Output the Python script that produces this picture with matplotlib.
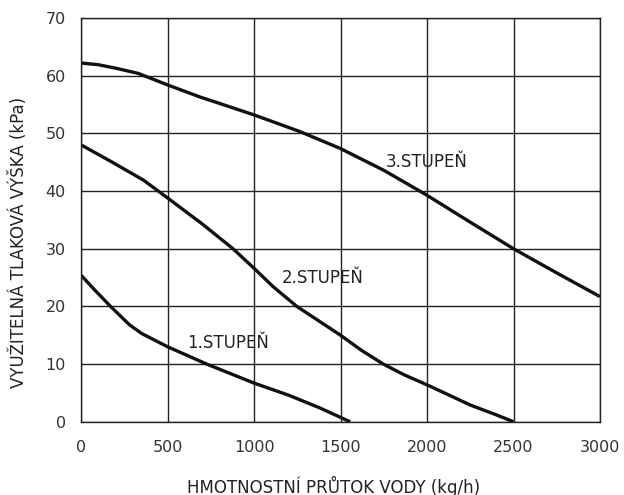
import matplotlib.pyplot as plt

# 1.STUPEŇ
x1 = [0, 80, 170, 280, 350, 500, 726, 1000, 1200, 1380, 1555]
y1 = [25.4, 22.8, 20.0, 16.8, 15.3, 13.0, 10.0, 6.7, 4.6, 2.4, 0.0]
# 2.STUPEŇ
x2 = [0, 180, 360, 500, 700, 878, 1000, 1111, 1247, 1500, 1620, 1747, 1870, 2000, 2250, 2400, 2500]
y2 = [48.0, 45.0, 41.9, 38.8, 34.3, 30.0, 26.6, 23.4, 20.0, 15.0, 12.4, 10.0, 8.1, 6.4, 2.9, 1.2, 0.0]
# 3.STUPEŇ
x3 = [0, 100, 200, 330, 500, 688, 850, 1000, 1266, 1497, 1750, 1998, 2250, 2500, 2750, 3000]
y3 = [62.2, 61.9, 61.3, 60.4, 58.4, 56.3, 54.7, 53.2, 50.3, 47.4, 43.6, 39.3, 34.6, 30.0, 25.8, 21.7]

labels = ["1.STUPEŇ", "2.STUPEŇ", "3.STUPEŇ"]
label_pos = [(613, 13.6), (1160, 25.0), (1760, 45.0)]

xticks = [0, 500, 1000, 1500, 2000, 2500, 3000]
yticks = [0, 10, 20, 30, 40, 50, 60, 70]

plt.rcParams['font.family'] = ['DejaVu Sans']

fig = plt.figure(figsize=(6.24, 4.95), dpi=100)
ax = fig.add_axes([0.13, 0.148, 0.8315, 0.8156])

for xs, ys in [(x1, y1), (x2, y2), (x3, y3)]:
    ax.plot(xs, ys, color="#111111", linewidth=2.4, solid_capstyle="butt")

for txt, (tx, ty) in zip(labels, label_pos):
    ax.text(tx, ty, txt, fontsize=12, color="#222222", va="center", ha="left")

ax.set_xlim(0, 3000)
ax.set_ylim(0, 70)
ax.set_xticks(xticks)
ax.set_yticks(yticks)
ax.grid(True, color="#222222", linewidth=1.0)
ax.set_axisbelow(True)
for s in ax.spines.values():
    s.set_color("#222222")
    s.set_linewidth(1.0)
ax.tick_params(length=0, labelsize=11.5, labelcolor="#333333")
ax.tick_params(axis="x", pad=13)
ax.tick_params(axis="y", pad=11)

fig.text(0.535, 1 - 486 / 495, "HMOTNOSTNÍ PRŮTOK VODY (kg/h)", fontsize=12, color="#222222",
         ha="center", va="center")
fig.text(19 / 624, 0.51, "VYUŽITELNÁ TLAKOVÁ VÝŠKA (kPa)", fontsize=12, color="#222222",
         ha="center", va="center", rotation=90)

fig.savefig("out.png", dpi=100)
